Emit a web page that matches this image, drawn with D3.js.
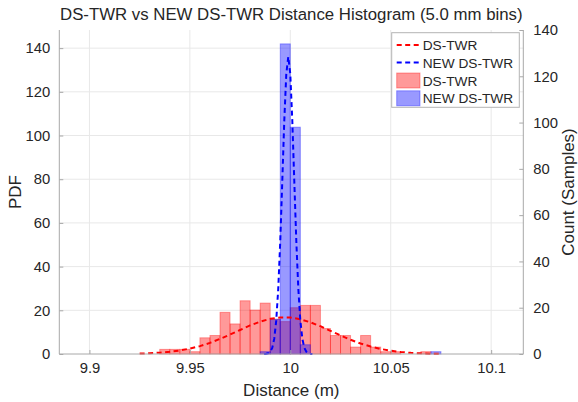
<!DOCTYPE html>
<html>
<head>
<meta charset="utf-8">
<script src="https://cdn.jsdelivr.net/npm/d3@7"></script>
<style>
  html, body { margin: 0; padding: 0; background: #fff; }
  svg { display: block; font-family: "Liberation Sans", Arial, Helvetica, sans-serif; }
</style>
</head>
<body>
<svg id="chart" width="578" height="402"></svg>
<script>
// ---------- data ----------
const binWidth = 0.005;
const binStarts = [9.935, 9.94, 9.945, 9.95, 9.955, 9.96, 9.965, 9.97, 9.975, 9.98,
                   9.985, 9.99, 9.995, 10.0, 10.005, 10.01, 10.015, 10.02, 10.025, 10.03,
                   10.035, 10.04, 10.045, 10.05, 10.055, 10.06, 10.065, 10.07];
const redCounts  = [2, 2, 2, 1, 7, 8, 18, 13, 23, 19,
                    22, 15, 14, 20, 21, 21, 11, 8, 8, 3,
                    8, 3, 1, 1, 0, 0, 1, 0];
const blueCounts = [0, 0, 0, 0, 0, 0, 0, 0, 0, 0,
                    1, 15, 134, 98, 4, 0, 0, 0, 0, 0,
                    0, 0, 0, 0, 0, 0, 0, 1];

const redLineX = [9.925, 9.93, 9.935, 9.94, 9.945, 9.95, 9.955, 9.96, 9.965, 9.97,
                  9.975, 9.98, 9.985, 9.99, 9.995, 10.0, 10.005, 10.01, 10.015, 10.02,
                  10.025, 10.03, 10.035, 10.04, 10.045, 10.05, 10.055, 10.06, 10.065, 10.07, 10.075];
const redLineY = [0.19, 0.34, 0.6, 1.0, 1.6, 2.5, 3.6, 5.1, 6.9, 8.9,
                  11.0, 13.1, 14.8, 16.1, 16.7, 16.7, 15.9, 14.5, 12.7, 10.6,
                  8.5, 6.5, 4.8, 3.4, 2.3, 1.5, 0.9, 0.53, 0.3, 0.16, 0.09];

const blueLineX = [9.987, 9.988, 9.989, 9.990, 9.991, 9.992, 9.993, 9.994, 9.995, 9.996,
                   9.997, 9.998, 9.999, 10.000, 10.001, 10.002, 10.003, 10.004, 10.005, 10.006,
                   10.007, 10.008, 10.009, 10.010, 10.011];
const blueLineY = [0.02, 0.09, 0.35, 1.0, 2.8, 6.9, 15.3, 29.8, 51.5, 78.8,
                   106.7, 128.1, 136.1, 128.1, 106.7, 78.8, 51.5, 29.8, 15.3, 6.9,
                   2.8, 1.0, 0.35, 0.09, 0.02];

const xTicks = [9.9, 9.95, 10, 10.05, 10.1];
const leftTicks = [0, 20, 40, 60, 80, 100, 120, 140];
const rightTicks = [0, 20, 40, 60, 80, 100, 120, 140];

const titleText = "DS-TWR vs NEW DS-TWR Distance Histogram (5.0 mm bins)";
const xLabel = "Distance (m)";
const leftLabel = "PDF";
const rightLabel = "Count (Samples)";
const legendNames = ["DS-TWR", "NEW DS-TWR", "DS-TWR", "NEW DS-TWR"];

// ---------- layout ----------
const L = 59.3, R = 523.3, T = 30, B = 354;
const axisColor = "#a8a8a8";
const gridColor = "#e8e8e8";
const textColor = "#262626";

const svg = d3.select("#chart");
const x = d3.scaleLinear().domain([9.885, 10.116]).range([L, R]);
const yL = d3.scaleLinear().domain([0, 148.3]).range([B, T]);
const yR = d3.scaleLinear().domain([0, 140]).range([B, T]);

// grid
const grid = svg.append("g");
grid.selectAll("line.vx").data(xTicks).enter().append("line")
  .attr("x1", d => x(d)).attr("x2", d => x(d)).attr("y1", T).attr("y2", B)
  .attr("stroke", gridColor).attr("stroke-width", 1);
grid.selectAll("line.hy").data(leftTicks.filter(d => d > 0)).enter().append("line")
  .attr("x1", L).attr("x2", R).attr("y1", d => yL(d)).attr("y2", d => yL(d))
  .attr("stroke", gridColor).attr("stroke-width", 1);

// bars
const bins = binStarts.map((s, i) => ({ s, red: redCounts[i], blue: blueCounts[i] }));
function drawBars(key, color) {
  svg.append("g").selectAll("rect").data(bins.filter(d => d[key] > 0)).enter().append("rect")
    .attr("x", d => x(d.s))
    .attr("width", d => x(d.s + binWidth) - x(d.s))
    .attr("y", d => yR(d[key]))
    .attr("height", d => yR(0) - yR(d[key]))
    .attr("fill", color).attr("fill-opacity", 0.4)
    .attr("stroke", color).attr("stroke-opacity", 0.35).attr("stroke-width", 1);
}
drawBars("red", "#ff0000");
drawBars("blue", "#0000ff");

// lines
const line = d3.line().x(d => x(d[0])).y(d => yL(d[1]));
svg.append("path").datum(redLineX.map((v, i) => [v, redLineY[i]]))
  .attr("d", line).attr("fill", "none").attr("stroke", "#ff0000")
  .attr("stroke-width", 2).attr("stroke-dasharray", "5,3.5");
svg.append("path").datum(blueLineX.map((v, i) => [v, blueLineY[i]]))
  .attr("d", line).attr("fill", "none").attr("stroke", "#0000ff")
  .attr("stroke-width", 2).attr("stroke-dasharray", "5,3.5");

// axes
const fs = "14.8px";
const xAxis = d3.axisBottom(x).tickValues(xTicks).tickSize(-4).tickPadding(8)
  .tickFormat(d => d3.format("")(+d.toFixed(2)));
const gx = svg.append("g").attr("transform", `translate(0,${B})`).call(xAxis);
const gl = svg.append("g").attr("transform", `translate(${L},0)`)
  .call(d3.axisLeft(yL).tickValues(leftTicks).tickSize(-4).tickPadding(9));
const gr = svg.append("g").attr("transform", `translate(${R},0)`)
  .call(d3.axisRight(yR).tickValues(rightTicks).tickSize(-4).tickPadding(10));
[gx, gl, gr].forEach(g => {
  g.select(".domain").attr("stroke", axisColor).attr("stroke-width", 1);
  g.selectAll(".tick line").attr("stroke", axisColor);
  g.selectAll(".tick text").attr("fill", textColor).style("font-size", fs)
    .style("font-family", '"Liberation Sans", Arial, sans-serif');
});
gx.select(".domain").attr("d", `M${L},0H${R}`);
gl.select(".domain").attr("d", `M0,${T}V${B}`);
gr.select(".domain").attr("d", `M0,${T}V${B}`);

// labels
svg.append("text").attr("x", (L + R) / 2).attr("y", 20).attr("text-anchor", "middle")
  .attr("fill", textColor).style("font-size", "16.8px").text(titleText);
svg.append("text").attr("x", (L + R) / 2).attr("y", 395.5).attr("text-anchor", "middle")
  .attr("fill", textColor).style("font-size", "17px").text(xLabel);
svg.append("text").attr("transform", `translate(21,${(T + B) / 2}) rotate(-90)`)
  .attr("text-anchor", "middle").attr("fill", textColor).style("font-size", "17px").text(leftLabel);
svg.append("text").attr("transform", `translate(574,${(T + B) / 2}) rotate(-90)`)
  .attr("text-anchor", "middle").attr("fill", textColor).style("font-size", "17px").text(rightLabel);

// legend
const lg = svg.append("g");
lg.append("rect").attr("x", 391.7).attr("y", 32.7).attr("width", 127.6).attr("height", 74.6)
  .attr("fill", "#fff").attr("stroke", "#b4b4b4").attr("stroke-width", 1);
const rowsY = [45, 62.5, 80.5, 98.3];
const legendColors = ["#ff0000", "#0000ff", "#ff0000", "#0000ff"];
legendNames.forEach((name, i) => {
  const cy = rowsY[i];
  if (i < 2) {
    lg.append("line").attr("x1", 396.7).attr("x2", 420).attr("y1", cy).attr("y2", cy)
      .attr("stroke", legendColors[i]).attr("stroke-width", 2).attr("stroke-dasharray", "5,3.5");
  } else {
    lg.append("rect").attr("x", 396.7).attr("y", cy - 7.5).attr("width", 23.3).attr("height", 15)
      .attr("fill", legendColors[i]).attr("fill-opacity", 0.4)
      .attr("stroke", legendColors[i]).attr("stroke-opacity", 0.35);
  }
  lg.append("text").attr("x", 422.7).attr("y", cy + 5).attr("fill", textColor)
    .style("font-size", "13.7px").text(name);
});
</script>
</body>
</html>
